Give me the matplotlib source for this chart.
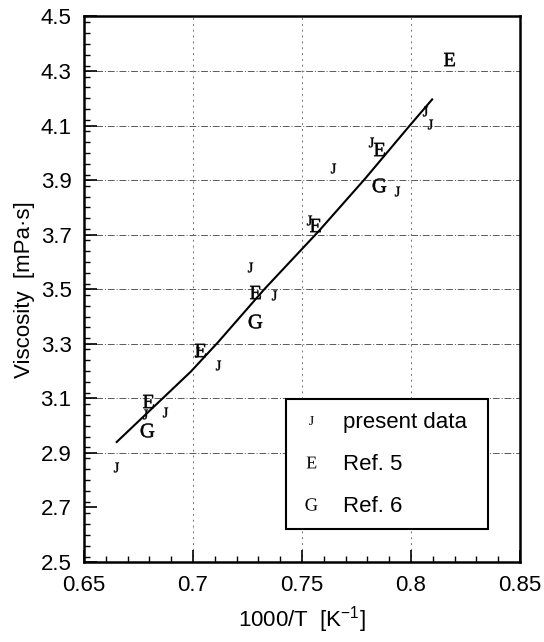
import matplotlib
matplotlib.use("Agg")
import matplotlib.pyplot as plt
from matplotlib.lines import Line2D
from matplotlib.ticker import MultipleLocator, FuncFormatter

# present data (J)
present_x = [0.6648, 0.678, 0.687, 0.702, 0.7114, 0.7263, 0.737, 0.7533,
             0.764, 0.7815, 0.7937, 0.8066, 0.8089]
present_y = [2.849, 3.042, 3.051, 3.270, 3.223, 3.580, 3.480, 3.753,
             3.943, 4.041, 3.860, 4.155, 4.106]

# Ref. 5 (E)
ref5_x = [0.6794, 0.703, 0.7286, 0.756, 0.7853, 0.8176]
ref5_y = [3.090, 3.278, 3.489, 3.735, 4.015, 4.345]

# Ref. 6 (G)
ref6_x = [0.679, 0.7286, 0.7853]
ref6_y = [2.985, 3.385, 3.884]

# correlation curve
fit_x = [0.665, 0.699, 0.7114, 0.7327, 0.7579, 0.7789, 0.7994, 0.8097]
fit_y = [2.94, 3.198, 3.305, 3.50, 3.715, 3.905, 4.10, 4.196]

x_ticks = [0.65, 0.70, 0.75, 0.80, 0.85]
y_ticks = [2.5, 2.7, 2.9, 3.1, 3.3, 3.5, 3.7, 3.9, 4.1, 4.3, 4.5]
grid_y = [2.9, 3.1, 3.3, 3.5, 3.7, 3.9, 4.1, 4.3]
grid_x = [0.70, 0.75, 0.80]

plt.rcParams["font.family"] = ["Liberation Sans", "DejaVu Sans"]
plt.rcParams["mathtext.fontset"] = "custom"
plt.rcParams["mathtext.rm"] = "Liberation Serif"
plt.rcParams["mathtext.default"] = "regular"

fig = plt.figure(figsize=(5.44, 6.42), dpi=100)
ax = fig.add_axes([0.1544, 0.1246, 0.8015, 0.8497])

for gy in grid_y:
    ax.axhline(gy, color="0.35", lw=0.7, ls=(0, (7, 2, 1, 2)), zorder=1)
for gx in grid_x:
    ax.axvline(gx, color="0.45", lw=0.7, ls=(0, (2, 4)), zorder=1)

ax.plot(fit_x, fit_y, color="black", lw=1.5, zorder=2)
ax.plot(present_x, present_y, ls="none", marker=r"$\mathrm{J}$",
        markersize=7, mew=0.3, color="black", zorder=3)
ax.plot(ref5_x, ref5_y, ls="none", marker=r"$\mathrm{E}$",
        markersize=9.5, mew=0.4, color="black", zorder=3)
ax.plot(ref6_x, ref6_y, ls="none", marker=r"$\mathrm{G}$",
        markersize=10, mew=0.4, color="black", zorder=3)

ax.set_xlim(0.65, 0.85)
ax.set_ylim(2.5, 4.5)
ax.set_xticks(x_ticks)
ax.set_yticks(y_ticks)
ax.xaxis.set_minor_locator(MultipleLocator(0.01))
ax.yaxis.set_minor_locator(MultipleLocator(0.04))
fmt = FuncFormatter(lambda v, p: "%g" % round(v, 3))
ax.xaxis.set_major_formatter(fmt)
ax.yaxis.set_major_formatter(fmt)
ax.tick_params(which="major", direction="in", length=9, width=1.2,
               labelsize=16)
ax.tick_params(axis="x", which="major", pad=9)
ax.tick_params(axis="y", which="major", pad=9)
ax.tick_params(which="minor", direction="in", length=4.5, width=1.0)
for s in ax.spines.values():
    s.set_linewidth(1.8)

ax.set_xlabel(r"1000/T  [K$^{-1}$]", fontsize=16, labelpad=6)
ax.set_ylabel("Viscosity  [mPa\u00b7s]", fontsize=16, labelpad=4)

handles = [
    Line2D([], [], ls="none", marker=r"$\mathrm{J}$", markersize=6.5, mew=0, color="black"),
    Line2D([], [], ls="none", marker=r"$\mathrm{E}$", markersize=8.5, mew=0, color="black"),
    Line2D([], [], ls="none", marker=r"$\mathrm{G}$", markersize=9, mew=0, color="black"),
]
leg = ax.legend(handles, ["present data", "Ref. 5", "Ref. 6"],
                loc="lower left", bbox_to_anchor=(0.463, 0.0605, 0.464, 0.244),
                mode="expand", fontsize=16, frameon=True, fancybox=False,
                framealpha=1, edgecolor="black", borderpad=0.55,
                labelspacing=0.95, handlelength=1.2, handletextpad=0.8,
                borderaxespad=0)
leg.get_frame().set_linewidth(1.5)

fig.savefig("out.png", dpi=100)
